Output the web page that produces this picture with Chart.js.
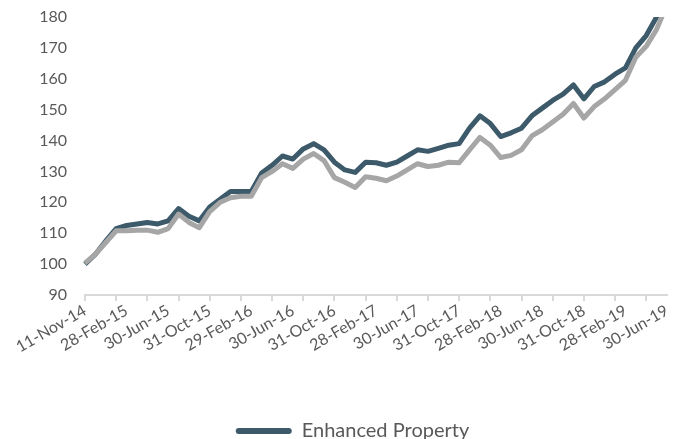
<!DOCTYPE html>
<html>
<head>
<meta charset="utf-8">
<script src="https://cdn.jsdelivr.net/npm/chart.js@4.4.1/dist/chart.umd.min.js"></script>
<style>
  html, body { margin: 0; padding: 0; background: #fff; overflow: hidden; }
  /* a little taller than the window: the legend sits on the bottom edge, as in the source */
  #wrap { width: 680px; height: 451px; position: relative; }
</style>
</head>
<body>
<div id="wrap"><canvas id="chart"></canvas></div>
<script>
// month-end dates (first point is the launch date)
const dates = [
  '11-Nov-14', '30-Nov-14', '31-Dec-14',
  '31-Jan-15', '28-Feb-15', '31-Mar-15', '30-Apr-15', '31-May-15', '30-Jun-15',
  '31-Jul-15', '31-Aug-15', '30-Sep-15', '31-Oct-15', '30-Nov-15', '31-Dec-15',
  '31-Jan-16', '29-Feb-16', '31-Mar-16', '30-Apr-16', '31-May-16', '30-Jun-16',
  '31-Jul-16', '31-Aug-16', '30-Sep-16', '31-Oct-16', '30-Nov-16', '31-Dec-16',
  '31-Jan-17', '28-Feb-17', '31-Mar-17', '30-Apr-17', '31-May-17', '30-Jun-17',
  '31-Jul-17', '31-Aug-17', '30-Sep-17', '31-Oct-17', '30-Nov-17', '31-Dec-17',
  '31-Jan-18', '28-Feb-18', '31-Mar-18', '30-Apr-18', '31-May-18', '30-Jun-18',
  '31-Jul-18', '31-Aug-18', '30-Sep-18', '31-Oct-18', '30-Nov-18', '31-Dec-18',
  '31-Jan-19', '28-Feb-19', '31-Mar-19', '30-Apr-19', '31-May-19', '30-Jun-19'
];

const enhanced = [
  100, 103.2, 107.5, 111.5, 112.5, 113, 113.5, 113, 114, 118, 115.5, 114,
  118.5, 121, 123.5, 123.5, 123.5, 129.5, 132, 135, 134, 137.3, 139, 137,
  133, 130.5, 129.7, 133, 132.8, 132, 133, 135, 137, 136.5, 137.5, 138.5,
  139, 144, 148, 145.5, 141.3, 142.5, 144, 148, 150.5, 153, 155, 158,
  153.5, 157.5, 159, 161.5, 163.5, 170, 174, 180, 188
];

const benchmark = [
  100.3, 103.2, 107, 110.8, 110.8, 111, 111, 110.3, 111.5, 116.2, 113.5, 111.8,
  117, 120, 121.5, 122, 122, 128, 130, 132.5, 131, 134, 135.8, 133.5,
  128, 126.5, 124.8, 128.3, 127.8, 127, 128.5, 130.5, 132.5, 131.6, 132, 133,
  132.8, 137, 141, 138.5, 134.5, 135.2, 137, 141.5, 143.5, 146, 148.5, 152,
  147.3, 151, 153.5, 156.5, 159.5, 167, 170.5, 176, 184
];

const yTicks = [90, 100, 110, 120, 130, 140, 150, 160, 170, 180];

const labelEvery = 4;   // a date label every 4 months
const markEvery = 3;    // a tick mark every 3 months

const font = "Lato, 'Open Sans', sans-serif";
const textColor = '#595959';

new Chart(document.getElementById('chart'), {
  type: 'line',
  data: {
    labels: dates,
    datasets: [
      {
        label: 'Enhanced Property',
        data: enhanced,
        borderColor: '#3d5a6a',
        backgroundColor: '#3d5a6a',
        borderWidth: 5,
        pointRadius: 0,
        tension: 0,
        borderJoinStyle: 'round',
        order: 1
      },
      {
        label: 'Benchmark',
        data: benchmark,
        borderColor: '#a6a6a6',
        backgroundColor: '#a6a6a6',
        borderWidth: 5,
        pointRadius: 0,
        tension: 0,
        borderJoinStyle: 'round',
        order: 0
      }
    ]
  },
  options: {
    responsive: true,
    maintainAspectRatio: false,
    animation: false,
    layout: { padding: { top: 17, right: 13, left: 38, bottom: 0 } },
    plugins: {
      tooltip: { enabled: false },
      legend: {
        position: 'bottom',
        labels: {
          font: { family: font, size: 20 },
          color: textColor,
          boxWidth: 56,
          boxHeight: 6,
          useBorderRadius: true,
          borderRadius: 3,
          padding: 0,
          filter: item => item.text === 'Enhanced Property',
          generateLabels: chart => {
            const items = Chart.defaults.plugins.legend.labels.generateLabels(chart);
            items.forEach(it => { it.lineWidth = 0; });
            return items;
          }
        }
      }
    },
    scales: {
      x: {
        offset: false,
        grid: {
          drawOnChartArea: false,
          drawTicks: true,
          tickLength: 6,
          lineWidth: 2,
          offset: false,
          color: ctx => (ctx.index % markEvery === 0 ? '#d9d9d9' : 'rgba(0,0,0,0)')
        },
        border: { color: '#d9d9d9', width: 2 },
        ticks: {
          autoSkip: false,
          minRotation: 30,
          maxRotation: 30,
          padding: 0,
          color: textColor,
          font: { family: font, size: 16 },
          callback: (v, i) => (i % labelEvery === 0 ? dates[i] : '')
        },
        afterFit: scale => { scale.height = 126; }
      },
      y: {
        min: yTicks[0],
        max: yTicks[yTicks.length - 1],
        grid: { display: false, drawTicks: false },
        border: { display: false },
        afterBuildTicks: scale => { scale.ticks = yTicks.map(v => ({ value: v })); },
        ticks: {
          padding: 18,
          color: textColor,
          font: { family: font, size: 16 }
        },
        afterFit: scale => {
          scale.width = 47;
          scale.paddingTop = 0;
          scale.paddingBottom = 0;
        }
      }
    }
  }
});
</script>
</body>
</html>
